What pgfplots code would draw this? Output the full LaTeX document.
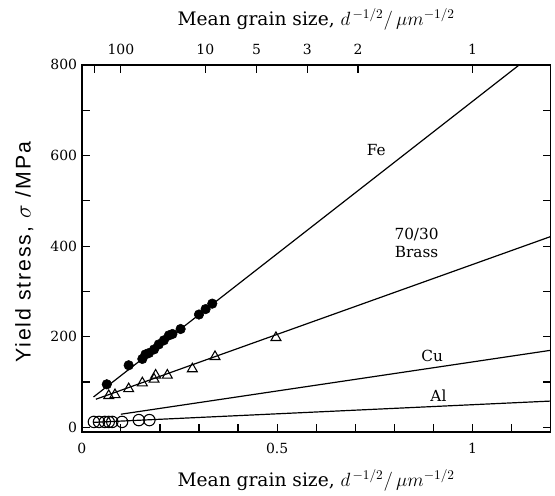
\documentclass[border=0pt]{standalone}
\usepackage{fontspec}
\setmainfont{DejaVu Serif}
\newfontfamily\ylabfont[LetterSpace=9]{Liberation Sans}
\usepackage{pgfplots}
\pgfplotsset{compat=1.18}

\begin{document}
\begin{tikzpicture}
% frame is 470 x 368 px of the 555 x 492 reference, 1 px = 0.75pt
\pgfplotsset{
  grainaxis/.style={
    at={(0,0)}, anchor=south west,
    width=352.5pt, height=276pt, scale only axis,
    xmin=0, xmax=1.2, ymin=-10, ymax=800,
    axis line style={line width=1.1pt},
    tick align=inside,
    major tick length=6pt,
    tick style={black, line width=0.9pt},
    /pgf/number format/assume math mode=true,
    tick label style={font=\fontsize{10.5}{13}\selectfont},
    label style={font=\fontsize{14}{17}\selectfont},
  },
}
\begin{axis}[
  grainaxis,
  xtick={0,0.1,0.2,0.3,0.4,0.5,0.6,0.7,0.8,0.9,1.0,1.1,1.2},
  xticklabels={0,,,,,0.5,,,,,1,,},
  xtick pos=left,
  ytick={0,100,200,300,400,500,600,700,800},
  yticklabels={0,,200,,400,,600,,800},
  ytick pos=both,
  yticklabel pos=left,
  x tick label style={yshift=-5pt},
  xlabel={Mean grain size, $d^{\,-1/2}/\,\mu m^{-1/2}$},
  ylabel={\ylabfont Yield stress, $\sigma$ /MPa},
  xlabel style={yshift=-5pt},
  ylabel style={font=\fontsize{16}{18}\selectfont, yshift=6pt, xshift=-3pt},
]
% fitted lines
\addplot[black, line width=0.9pt] coordinates {(0.03,67) (1.12,800)};
\addplot[black, line width=0.9pt] coordinates {(0.036,62) (1.2,421)};
\addplot[black, line width=0.9pt] coordinates {(0.10,29) (1.2,170)};
\addplot[black, line width=0.9pt] coordinates {(0.03,11) (1.2,58)};
% Fe
\addplot[only marks, mark=*, mark size=3.6pt, black] coordinates {
  (0.064,95) (0.120,137) (0.155,151) (0.163,161) (0.172,164) (0.185,172)
  (0.197,183) (0.210,192) (0.223,203) (0.232,206) (0.253,217) (0.300,249)
  (0.317,261) (0.334,273)
};
% 70/30 brass
\addplot[only marks, mark=triangle, mark size=4.3pt, black, mark options={fill=white, line width=0.8pt}] coordinates {
  (0.069,70) (0.085,72) (0.120,85) (0.155,98) (0.185,106) (0.189,115)
  (0.219,115) (0.283,129) (0.341,156) (0.497,198)
};
% Al
\addplot[only marks, mark=o, mark size=4.3pt, black, mark options={fill=white, line width=0.8pt}] coordinates {
  (0.031,12) (0.044,12) (0.059,12) (0.069,12) (0.078,12) (0.103,12)
  (0.146,16) (0.173,16)
};
\node[font=\fontsize{11.5}{14}\selectfont] at (axis cs:0.754,612) {Fe};
\node[font=\fontsize{11.5}{14}\selectfont, align=center] at (axis cs:0.857,407) {70/30\\Brass};
\node[font=\fontsize{11.5}{14}\selectfont] at (axis cs:0.897,158) {Cu};
\node[font=\fontsize{11.5}{14}\selectfont] at (axis cs:0.913,70) {Al};
\end{axis}
\begin{axis}[
  grainaxis,
  hide y axis,
  xtick={0.0316,0.1,0.3162,0.4472,0.5774,0.7071,1.0},
  xticklabels={,100,10,5,3,2,1},
  xtick pos=right,
  xticklabel pos=right,
  x tick label style={yshift=4pt},
  xlabel={Mean grain size, $d^{\,-1/2}/\,\mu m^{-1/2}$},
  xlabel style={yshift=4pt},
]
\end{axis}
\path (-61.5pt,-44.25pt) (354.75pt,324.75pt);
\end{tikzpicture}
\end{document}
